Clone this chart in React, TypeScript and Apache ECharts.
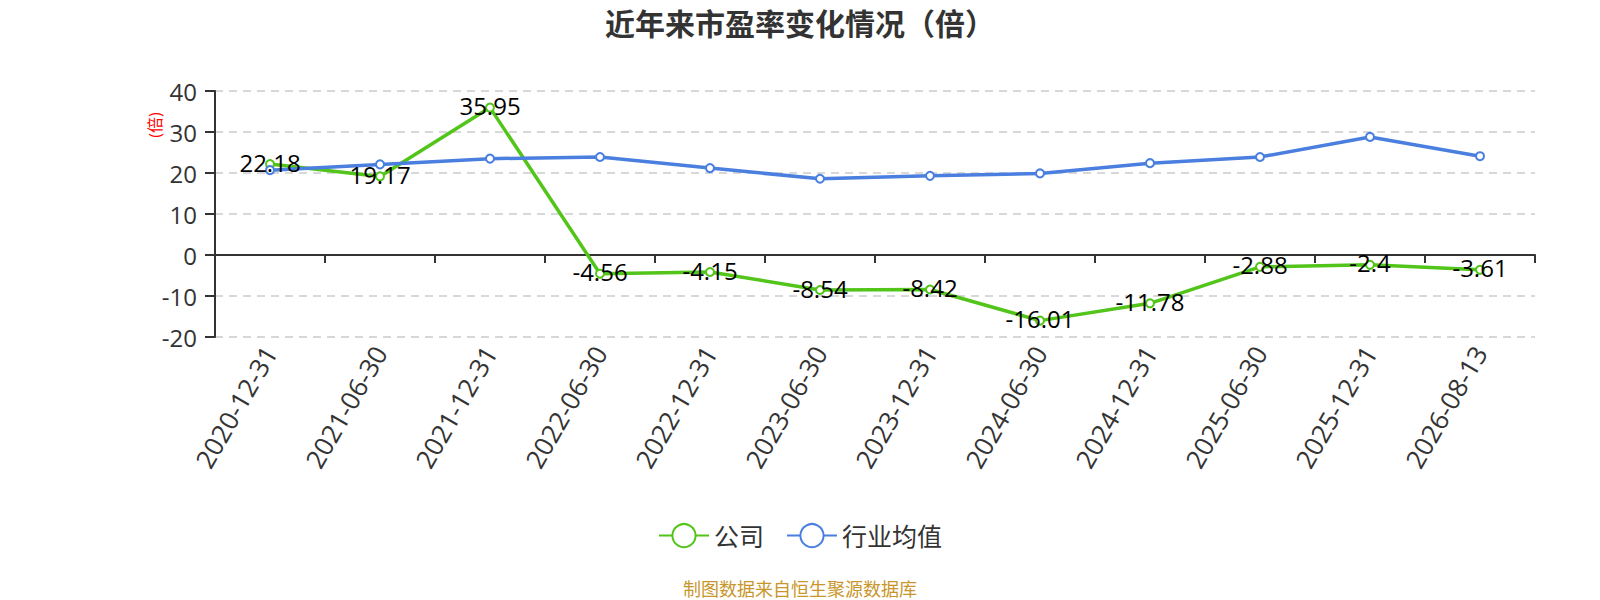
import React, { useEffect, useRef } from "react";
import * as echarts from "echarts";

const categories = [
  "2020-12-31", "2021-06-30", "2021-12-31", "2022-06-30", "2022-12-31", "2023-06-30",
  "2023-12-31", "2024-06-30", "2024-12-31", "2025-06-30", "2025-12-31", "2026-08-13",
];
const companyPE = [22.18, 19.17, 35.95, -4.56, -4.15, -8.54, -8.42, -16.01, -11.78, -2.88, -2.4, -3.61];
const industryPE = [20.7, 22.1, 23.5, 23.9, 21.2, 18.6, 19.3, 19.9, 22.4, 23.9, 28.8, 24.1];
const seriesNames = ["公司", "行业均值"];
const yMin = -20;
const yMax = 40;
const yInterval = 10;

const FONT = "'Open Sans', 'Noto Sans CJK SC', sans-serif";

export default function App() {
  const ref = useRef<HTMLDivElement>(null);
  useEffect(() => {
    document.body.style.margin = "0";
    if (!ref.current) return;
    const chart = echarts.init(ref.current, undefined, { renderer: "svg" });
    chart.setOption({
      animation: false,
      textStyle: { fontFamily: FONT },
      title: {
        text: "近年来市盈率变化情况（倍）",
        left: "center",
        top: 3,
        textStyle: { fontSize: 30, fontWeight: "bold", color: "#333", fontFamily: FONT },
      },
      legend: {
        top: 523,
        left: "center",
        padding: 0,
        itemWidth: 50,
        itemHeight: 29,
        itemGap: 22,
        lineStyle: { width: 2 },
        textStyle: { fontSize: 25, color: "#333", fontFamily: FONT },
        data: seriesNames,
      },
      grid: { left: 215, right: 65, top: 91, bottom: 263 },
      xAxis: [
        {
          type: "category",
          data: categories,
          position: "bottom",
          axisLine: { show: false, onZero: false },
          axisTick: { show: false },
          axisLabel: { rotate: 60, fontSize: 26, color: "#333", margin: 11, interval: 0, fontFamily: FONT },
          splitLine: { show: false },
        },
        {
          type: "category",
          data: categories,
          position: "bottom",
          axisLine: { show: true, onZero: true, lineStyle: { color: "#333", width: 2 } },
          axisTick: { show: true, interval: 0, length: 8, lineStyle: { color: "#333", width: 2 } },
          axisLabel: { show: false },
          splitLine: { show: false },
        },
      ],
      yAxis: {
        type: "value",
        min: yMin,
        max: yMax,
        interval: yInterval,
        axisLine: { show: true, lineStyle: { color: "#333", width: 2 } },
        axisTick: { show: true, length: 10, lineStyle: { color: "#333", width: 2 } },
        axisLabel: { fontSize: 24, color: "#333", margin: 18, fontFamily: FONT },
        splitLine: { show: true, lineStyle: { type: [8, 6], color: "#ccc", width: 1.5 } },
      },
      graphic: [
        {
          type: "text",
          x: 155,
          y: 125,
          rotation: Math.PI / 2,
          style: {
            text: "(倍)",
            fill: "#ff0000",
            fontSize: 16,
            fontFamily: FONT,
            textAlign: "center",
            textVerticalAlign: "middle",
          },
        },
        {
          type: "text",
          x: 800,
          y: 589,
          style: {
            text: "制图数据来自恒生聚源数据库",
            fill: "#c9962b",
            fontSize: 18,
            fontFamily: FONT,
            textAlign: "center",
            textVerticalAlign: "middle",
          },
        },
      ],
      series: [
        {
          name: seriesNames[0],
          type: "line",
          xAxisIndex: 0,
          data: companyPE,
          color: "#52c41a",
          symbol: "emptyCircle",
          symbolSize: 8,
          lineStyle: { width: 3.5, color: "#52c41a" },
          itemStyle: { color: "#52c41a", borderWidth: 2 },
          label: {
            show: true,
            position: "inside",
            offset: [0, -2],
            fontSize: 24,
            color: "#000",
            fontFamily: FONT,
          },
        },
        {
          name: seriesNames[1],
          type: "line",
          xAxisIndex: 0,
          data: industryPE,
          color: "#4a7fe0",
          symbol: "emptyCircle",
          symbolSize: 8,
          lineStyle: { width: 3.5, color: "#4a7fe0" },
          itemStyle: { color: "#4a7fe0", borderWidth: 2 },
          label: { show: false },
        },
      ],
    });
    return () => chart.dispose();
  }, []);
  return <div ref={ref} style={{ width: 1600, height: 600 }} />;
}
